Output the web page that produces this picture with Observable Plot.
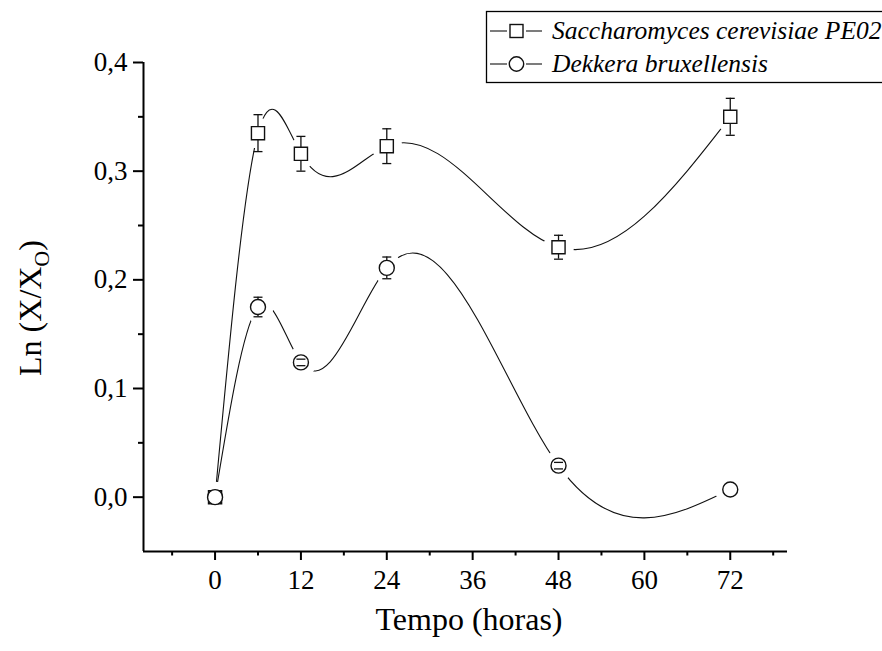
<!DOCTYPE html>
<html>
<head>
<meta charset="utf-8">
<script src="https://cdn.jsdelivr.net/npm/d3@7"></script>
<script src="https://cdn.jsdelivr.net/npm/@observablehq/plot@0.6"></script>
<style>
  html, body { margin: 0; padding: 0; background: #fff; }
  #chart { position: relative; width: 882px; height: 651px; overflow: hidden; }
</style>
</head>
<body>
<div id="chart"></div>
<script>
// ---- data ----
const hours = [0, 6, 12, 24, 48, 72];
const scValues = [0.000, 0.335, 0.316, 0.323, 0.230, 0.350];
const scErrors = [0.000, 0.017, 0.016, 0.016, 0.011, 0.017];
const dbValues = [0.000, 0.175, 0.124, 0.211, 0.029, 0.007];
const dbErrors = [0.000, 0.009, 0.003, 0.010, 0.003, 0.000];
const seriesNames = ["Saccharomyces cerevisiae PE02", "Dekkera bruxellensis"];
const xMajorTicks = [0, 12, 24, 36, 48, 60, 72];
const xMinorTicks = [-6, 6, 18, 30, 42, 54, 66, 78];
const yMajorTicks = [0, 0.1, 0.2, 0.3, 0.4];
const yMinorTicks = [0.05, 0.15, 0.25, 0.35];
const xTitle = "Tempo (horas)";

const sc = hours.map((h, i) => ({x: h, y: scValues[i], e: scErrors[i]}));
const db = hours.map((h, i) => ({x: h, y: dbValues[i], e: dbErrors[i]}));
const all = sc.concat(db);

const fmt = d => d3.format(".1f")(d).replace(".", ",");
const FONT = "'Liberation Serif', 'Times New Roman', serif";
const INK = "#111";
const capSymbol = { draw(ctx) { ctx.moveTo(-4.5, 0); ctx.lineTo(4.5, 0); } };

// Natural cubic spline y(x) (non-uniform knots), drawn as Bezier segments
function curveSplineX(context) {
  let xs, ys;
  return {
    areaStart() {}, areaEnd() {},
    lineStart() { xs = []; ys = []; },
    point(x, y) { xs.push(+x); ys.push(+y); },
    lineEnd() {
      const n = xs.length;
      if (!n) return;
      context.moveTo(xs[0], ys[0]);
      if (n === 1) return;
      if (n === 2) { context.lineTo(xs[1], ys[1]); return; }
      const h = [], s = [];
      for (let i = 0; i < n - 1; i++) { h[i] = xs[i + 1] - xs[i]; s[i] = (ys[i + 1] - ys[i]) / h[i]; }
      const m = n - 2, a = [], b = [], c = [], r = [];
      for (let k = 0; k < m; k++) {
        const i = k + 1;
        a[k] = h[i - 1]; b[k] = 2 * (h[i - 1] + h[i]); c[k] = h[i]; r[k] = 6 * (s[i] - s[i - 1]);
      }
      for (let k = 1; k < m; k++) {
        const w = a[k] / b[k - 1];
        b[k] -= w * c[k - 1]; r[k] -= w * r[k - 1];
      }
      const M = new Array(n).fill(0);
      for (let k = m - 1; k >= 0; k--) {
        M[k + 1] = (r[k] - (k < m - 1 ? c[k] * M[k + 2] : 0)) / b[k];
      }
      const d = [];
      for (let i = 0; i < n - 1; i++) d[i] = s[i] - h[i] * (2 * M[i] + M[i + 1]) / 6;
      d[n - 1] = s[n - 2] + h[n - 2] * (M[n - 2] + 2 * M[n - 1]) / 6;
      for (let i = 0; i < n - 1; i++) {
        const t = h[i] / 3;
        context.bezierCurveTo(xs[i] + t, ys[i] + d[i] * t, xs[i + 1] - t, ys[i + 1] - d[i + 1] * t, xs[i + 1], ys[i + 1]);
      }
    }
  };
}

const plot = Plot.plot({
  width: 882,
  height: 651,
  marginLeft: 143,
  marginRight: 95,
  marginTop: 62,
  marginBottom: 100,
  style: { fontFamily: FONT, color: "#000", background: "#fff", overflow: "visible" },
  x: { domain: [-10, 80] },
  y: { domain: [-0.05, 0.4] },
  marks: [
    Plot.axisX(xMajorTicks, { tickSize: 9, tickPadding: 9, fontSize: 27, strokeWidth: 2, label: null, tickFormat: d => String(d) }),
    Plot.axisX(xMinorTicks, { tickSize: 4.5, strokeWidth: 2, label: null, tickFormat: () => "" }),
    Plot.axisY(yMajorTicks, { tickSize: 10, tickPadding: 6, fontSize: 27, strokeWidth: 2, label: null, tickFormat: fmt }),
    Plot.axisY(yMinorTicks, { tickSize: 5, strokeWidth: 2, label: null, tickFormat: () => "" }),
    Plot.ruleX([-10], { stroke: "#000", strokeWidth: 2 }),
    Plot.ruleY([-0.05], { stroke: "#000", strokeWidth: 2 }),
    Plot.line(sc, { x: "x", y: "y", curve: curveSplineX, stroke: INK, strokeWidth: 1.1 }),
    Plot.line(db, { x: "x", y: "y", curve: curveSplineX, stroke: INK, strokeWidth: 1.1 }),
    // white halo -> gap between curve and symbol
    Plot.dot(all, { x: "x", y: "y", r: 15, fill: "#fff", stroke: "#fff", strokeWidth: 1 }),
    Plot.ruleX(all.filter(d => d.e > 0), { x: "x", y1: d => d.y - d.e, y2: d => d.y + d.e, stroke: INK, strokeWidth: 1.3 }),
    Plot.dot(sc, { x: "x", y: "y", symbol: "square", r: 7.4, fill: "#fff", stroke: INK, strokeWidth: 1.4 }),
    Plot.dot(db, { x: "x", y: "y", symbol: "circle", r: 7.5, fill: "#fff", stroke: INK, strokeWidth: 1.4 }),
    Plot.dot(all.filter(d => d.e > 0), { x: "x", y: d => d.y + d.e, symbol: capSymbol, fill: "none", stroke: INK, strokeWidth: 1.3 }),
    Plot.dot(all.filter(d => d.e > 0), { x: "x", y: d => d.y - d.e, symbol: capSymbol, fill: "none", stroke: INK, strokeWidth: 1.3 })
  ]
});

const svg = d3.select(plot);

svg.append("text")
  .attr("x", 469).attr("y", 630)
  .attr("text-anchor", "middle")
  .style("font-family", FONT).style("font-size", "32px").attr("fill", "#000")
  .text(xTitle);

const yt = svg.append("text")
  .attr("transform", "translate(41,308) rotate(-90)")
  .attr("text-anchor", "middle")
  .style("font-family", FONT).style("font-size", "32px").attr("fill", "#000");
yt.append("tspan").text("Ln (X/X");
yt.append("tspan").attr("dy", 8).style("font-size", "22px").text("O");
yt.append("tspan").attr("dy", -8).text(")");

const lg = svg.append("g").attr("text-anchor", "start");
lg.append("rect").attr("x", 486.5).attr("y", 11.5).attr("width", 520).attr("height", 71)
  .attr("fill", "#fff").attr("stroke", "#000").attr("stroke-width", 1.3);
const rows = [{y: 31, sym: "square"}, {y: 64, sym: "circle"}];
rows.forEach((r, i) => {
  lg.append("line").attr("x1", 490).attr("x2", 507).attr("y1", r.y).attr("y2", r.y)
    .attr("stroke", INK).attr("stroke-width", 1.1);
  lg.append("line").attr("x1", 526).attr("x2", 542).attr("y1", r.y).attr("y2", r.y)
    .attr("stroke", INK).attr("stroke-width", 1.1);
  if (r.sym === "square") {
    lg.append("rect").attr("x", 510).attr("y", r.y - 6.5).attr("width", 13).attr("height", 13)
      .attr("fill", "#fff").attr("stroke", INK).attr("stroke-width", 1.4);
  } else {
    lg.append("circle").attr("cx", 516.5).attr("cy", r.y).attr("r", 7.2)
      .attr("fill", "#fff").attr("stroke", INK).attr("stroke-width", 1.4);
  }
  lg.append("text").attr("x", 552).attr("y", r.y + 8).attr("text-anchor", "start")
    .style("font-family", FONT).style("font-size", "25.5px").style("font-style", "italic").attr("fill", "#000")
    .text(seriesNames[i]);
});

document.getElementById("chart").appendChild(plot);
</script>
</body>
</html>
